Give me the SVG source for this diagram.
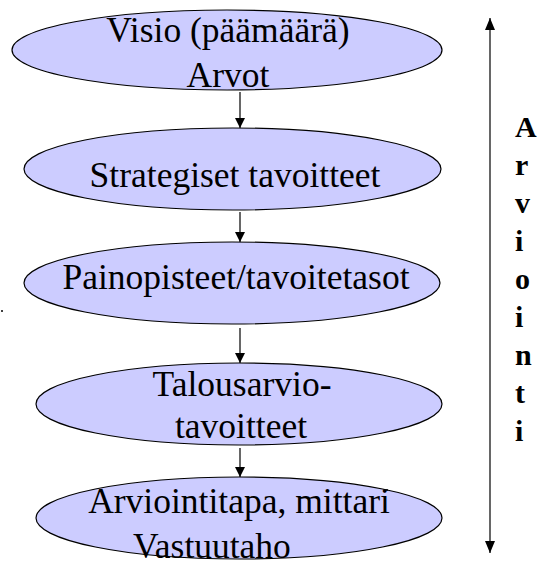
<svg xmlns="http://www.w3.org/2000/svg" width="539" height="561" viewBox="0 0 539 561">
<style>
.node ellipse{fill:#CCCCFF;stroke:#000;stroke-width:1.2}
.node text{font-family:"Liberation Serif","Times New Roman",serif;font-size:35.5px;fill:#000;text-anchor:middle}
.conn line{stroke:#000;stroke-width:1.2}
.side{font-family:"Liberation Serif","Times New Roman",serif;font-size:30px;font-weight:bold;fill:#000}
</style>
<defs>
<marker id="ah" viewBox="0 0 10 10" refX="10" refY="5" markerWidth="10" markerHeight="10" markerUnits="userSpaceOnUse" orient="auto">
<path d="M0,0 L10,5 L0,10 Z" fill="#000"/>
</marker>
<marker id="ah2" viewBox="0 0 12 10" refX="12" refY="5" markerWidth="12" markerHeight="10" markerUnits="userSpaceOnUse" orient="auto-start-reverse">
<path d="M0,0 L12,5 L0,10 Z" fill="#000"/>
</marker>
</defs>
<rect width="539" height="561" fill="#fff"/>
<g id="n1" class="node">
<ellipse cx="227" cy="50" rx="215" ry="40"/>
<text x="228" y="42">Visio (päämäärä)</text>
<text x="228" y="87">Arvot</text>
</g>
<g id="n2" class="node">
<ellipse cx="232.5" cy="169" rx="208.5" ry="41"/>
<text x="235" y="187">Strategiset tavoitteet</text>
</g>
<g id="n3" class="node">
<ellipse cx="232" cy="283" rx="208" ry="41"/>
<text x="236" y="289">Painopisteet/tavoitetasot</text>
</g>
<g id="n4" class="node">
<ellipse cx="239" cy="404" rx="203" ry="41"/>
<text x="242" y="396">Talousarvio-</text>
<text x="241" y="438">tavoitteet</text>
</g>
<g id="n5" class="node">
<ellipse cx="239" cy="518" rx="203" ry="41"/>
<text x="239" y="513">Arviointitapa, mittari</text>
<text x="212" y="558">Vastuutaho</text>
</g>
<g id="connectors" class="conn">
<line x1="240" y1="92" x2="240" y2="128" marker-end="url(#ah)"/>
<line x1="240" y1="212" x2="240" y2="242" marker-end="url(#ah)"/>
<line x1="240" y1="328" x2="240" y2="363" marker-end="url(#ah)"/>
<line x1="240" y1="448" x2="240" y2="477" marker-end="url(#ah)"/>
<line x1="490" y1="18" x2="490" y2="553" marker-start="url(#ah2)" marker-end="url(#ah2)"/>
</g>
<g id="side-label">
<text class="side" x="515" y="137">A</text>
<text class="side" x="515" y="175">r</text>
<text class="side" x="515" y="213">v</text>
<text class="side" x="515" y="251">i</text>
<text class="side" x="515" y="289">o</text>
<text class="side" x="515" y="327">i</text>
<text class="side" x="515" y="365">n</text>
<text class="side" x="515" y="403">t</text>
<text class="side" x="515" y="441">i</text>
</g>
<circle cx="2" cy="311" r="1" fill="#000"/>
<circle cx="387" cy="490" r="1" fill="#000"/>
</svg>
